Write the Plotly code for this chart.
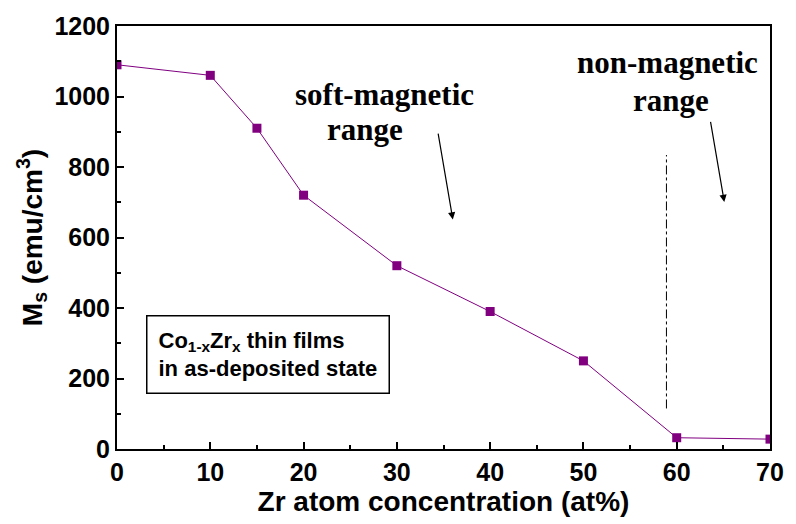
import plotly.graph_objects as go

zr = [0, 10, 15, 20, 30, 40, 50, 60, 70]
ms = [1090, 1060, 910, 720, 520, 390, 250, 32, 28]
x_ticks = [0, 10, 20, 30, 40, 50, 60, 70]
y_ticks = [0, 200, 400, 600, 800, 1000, 1200]
boundary_x = 58.9
boundary_y = [115, 834]

purple = "#800080"
fig = go.Figure()
fig.add_trace(go.Scatter(
    x=zr, y=ms, mode="lines+markers",
    line=dict(color=purple, width=1),
    marker=dict(symbol="square", size=9, color=purple),
    showlegend=False))
fig.add_trace(go.Scatter(
    x=[boundary_x, boundary_x], y=boundary_y, mode="lines",
    line=dict(color="black", width=1, dash="dashdot"), showlegend=False))

tickfont = dict(family="Liberation Sans", size=25, color="black")
fig.update_xaxes(range=[0, 70], tickmode="array", tickvals=x_ticks,
                 ticktext=["<b>%d</b>" % v for v in x_ticks],
                 showline=True, linecolor="black", linewidth=2, mirror=True,
                 ticks="inside", ticklen=7, tickwidth=2, tickcolor="black",
                 minor=dict(ticks="inside", ticklen=4, tickwidth=2, tickcolor="black", dtick=5),
                 showgrid=False, zeroline=False, tickfont=tickfont,
                 title=dict(text="<b>Zr atom concentration (at%)</b>",
                            font=dict(family="Liberation Sans", size=28, color="black"), standoff=4))
fig.update_yaxes(range=[0, 1200], tickmode="array", tickvals=y_ticks,
                 ticktext=["<b>%d</b>" % v for v in y_ticks],
                 showline=True, linecolor="black", linewidth=2, mirror=True,
                 ticks="inside", ticklen=7, tickwidth=2, tickcolor="black",
                 minor=dict(ticks="inside", ticklen=4, tickwidth=2, tickcolor="black", dtick=100),
                 showgrid=False, zeroline=False, tickfont=tickfont,
                 title=dict(text="<b>M<sub>s</sub> (emu/cm<sup>3</sup>)</b>",
                            font=dict(family="Liberation Sans", size=28, color="black"), standoff=4))

serif = dict(family="Liberation Serif", size=31, color="black")
fig.add_annotation(x=28.7, y=1006, text="<b>soft-magnetic</b>", showarrow=False, font=serif)
fig.add_annotation(x=26.6, y=907, text="<b>range</b>", showarrow=False, font=serif)
fig.add_annotation(x=59.0, y=1097, text="<b>non-magnetic</b>", showarrow=False, font=serif)
fig.add_annotation(x=59.4, y=989, text="<b>range</b>", showarrow=False, font=serif)

fig.add_annotation(x=36.0, y=651, ax=34.4, ay=899, axref="x", ayref="y",
                   text="", showarrow=True, arrowhead=2, arrowsize=1.2, arrowwidth=1.2, arrowcolor="black")
fig.add_annotation(x=65.1, y=701, ax=63.6, ay=932, axref="x", ayref="y",
                   text="", showarrow=True, arrowhead=2, arrowsize=1.2, arrowwidth=1.2, arrowcolor="black")

fig.add_annotation(x=3.06, y=380, xanchor="left", yanchor="top",
                   text="<b>Co<sub>1-x</sub>Zr<sub>x</sub> thin films</b><br><b>in as-deposited state</b>",
                   showarrow=False, align="left", bordercolor="black", borderwidth=1.5, borderpad=11,
                   bgcolor="white",
                   font=dict(family="Liberation Sans", size=22, color="black"))

fig.update_layout(width=796, height=524, margin=dict(l=117, r=16, t=23, b=75),
                  plot_bgcolor="white", paper_bgcolor="white")
fig.write_html("out.html")
